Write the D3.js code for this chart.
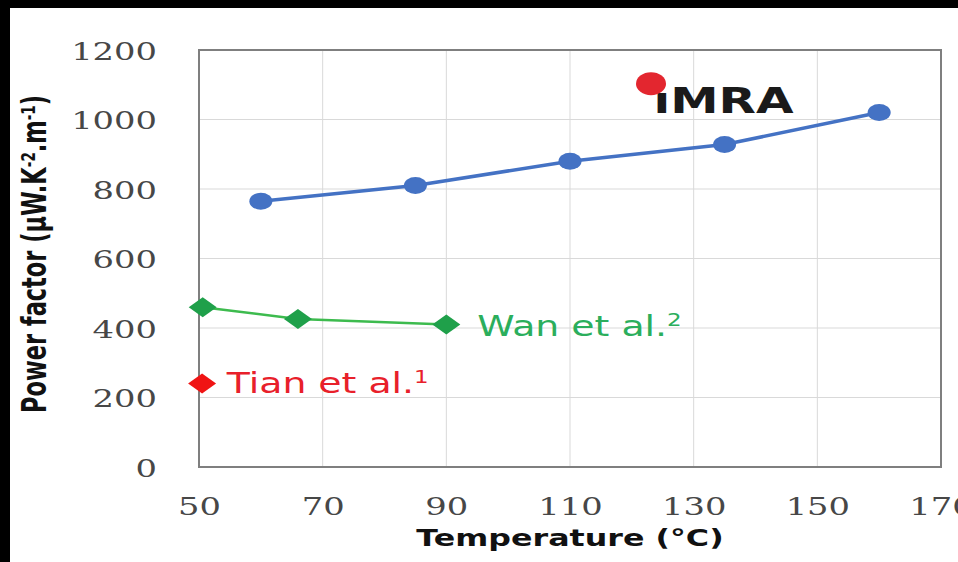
<!DOCTYPE html>
<html>
<head>
<meta charset="utf-8">
<script src="https://d3js.org/d3.v7.min.js"></script>
<style>
  body { margin: 0; background: #000; }
  svg { display: block; }
</style>
</head>
<body>
<div id="chart"></div>
<script>
// data
var imraTemp = [60, 85, 110, 135, 160];
var imraPF = [765, 810, 880, 928, 1020];
var wanTemp = [50.6, 66, 90];
var wanPF = [460, 426, 410];
var tianTemp = [50.5];
var tianPF = [240];
var xTicks = [50, 70, 90, 110, 130, 150, 170];
var yTicks = [0, 200, 400, 600, 800, 1000, 1200];

var W = 958, H = 562;
var SX = 1.35; // the picture is stretched sideways, text too

var svg = d3.select("#chart").append("svg")
  .attr("width", W).attr("height", H);

// white page with the black frame at top / left
svg.append("rect").attr("width", W).attr("height", H).attr("fill", "#000");
svg.append("rect").attr("x", 10).attr("y", 8).attr("width", W - 10).attr("height", H - 8).attr("fill", "#fff");

var x = d3.scaleLinear().domain([50, 170]).range([199, 941]);
var y = d3.scaleLinear().domain([0, 1200]).range([467, 50]);

// gridlines
svg.append("g").selectAll("line.v")
  .data(xTicks.slice(1, -1)).enter().append("line")
    .attr("x1", function(d) { return x(d); }).attr("x2", function(d) { return x(d); })
    .attr("y1", y(0)).attr("y2", y(1200))
    .attr("stroke", "#d9d9d9").attr("stroke-width", 1);
svg.append("g").selectAll("line.h")
  .data(yTicks.slice(1, -1)).enter().append("line")
    .attr("x1", x(50)).attr("x2", x(170))
    .attr("y1", function(d) { return y(d); }).attr("y2", function(d) { return y(d); })
    .attr("stroke", "#d9d9d9").attr("stroke-width", 1);

// plot frame
svg.append("rect")
  .attr("x", x(50)).attr("y", y(1200))
  .attr("width", x(170) - x(50)).attr("height", y(0) - y(1200))
  .attr("fill", "none").attr("stroke", "#7f7f7f").attr("stroke-width", 2);

// axes (labels only)
var xAxis = svg.append("g")
  .attr("transform", "translate(0," + y(0) + ")")
  .call(d3.axisBottom(x).tickValues(xTicks).tickSize(0).tickFormat(d3.format("d")));
xAxis.select(".domain").remove();
xAxis.selectAll("text")
  .attr("y", 48).attr("dy", 0)
  .attr("transform", "scale(" + SX + ",1)")
  .style("font-family", "'DejaVu Serif', serif")
  .style("font-size", "25px")
  .attr("fill", "#474747");

var yAxis = svg.append("g")
  .attr("transform", "translate(" + x(50) + ",0)")
  .call(d3.axisLeft(y).tickValues(yTicks).tickSize(0).tickFormat(d3.format("d")));
yAxis.select(".domain").remove();
yAxis.selectAll("text")
  .attr("x", -42 / SX).attr("dy", "0.36em")
  .attr("transform", "scale(" + SX + ",1)")
  .style("font-family", "'DejaVu Serif', serif")
  .style("font-size", "25px")
  .attr("fill", "#474747");

// axis titles
svg.append("text")
  .attr("transform", "translate(" + (x(50) + x(170)) / 2 + ",546) scale(" + SX + ",1)")
  .attr("text-anchor", "middle")
  .style("font-family", "'DejaVu Sans', sans-serif")
  .style("font-weight", "bold")
  .style("font-size", "23.5px")
  .attr("fill", "#111")
  .text("Temperature (°C)");

var yt = svg.append("text")
  .attr("transform", "translate(46,254) rotate(-90) scale(1," + SX + ")")
  .attr("text-anchor", "middle")
  .style("font-family", "'DejaVu Sans Condensed', 'DejaVu Sans', sans-serif")
  .style("font-stretch", "condensed")
  .style("font-weight", "bold")
  .style("font-size", "25px")
  .attr("fill", "#111");
yt.append("tspan").text("Power factor (µW.K");
yt.append("tspan").attr("baseline-shift", "super").style("font-size", "15px").text("-2");
yt.append("tspan").text(".m");
yt.append("tspan").attr("baseline-shift", "super").style("font-size", "15px").text("-1");
yt.append("tspan").text(")");

// iMRA series
var imra = imraTemp.map(function(t, i) { return [t, imraPF[i]]; });
var line = d3.line().x(function(d) { return x(d[0]); }).y(function(d) { return y(d[1]); });
svg.append("path").datum(imra)
  .attr("d", line).attr("fill", "none")
  .attr("stroke", "#4472c4").attr("stroke-width", 3.5);
svg.selectAll("ellipse.imra").data(imra).enter().append("ellipse")
  .attr("cx", function(d) { return x(d[0]); })
  .attr("cy", function(d) { return y(d[1]); })
  .attr("rx", 11.5).attr("ry", 8.5)
  .attr("fill", "#4472c4");

// Wan et al. series
var wan = wanTemp.map(function(t, i) { return [t, wanPF[i]]; });
svg.append("path").datum(wan)
  .attr("d", line).attr("fill", "none")
  .attr("stroke", "#3dbb4e").attr("stroke-width", 2.5);
function diamond(d) {
  var cx = x(d[0]), cy = y(d[1]);
  return "M" + (cx - 14) + "," + cy + "L" + cx + "," + (cy - 10) +
    "L" + (cx + 14) + "," + cy + "L" + cx + "," + (cy + 10) + "Z";
}
svg.selectAll("path.wan").data(wan).enter().append("path")
  .attr("d", diamond).attr("fill", "#1fa04a");

// Tian et al. point
var tian = tianTemp.map(function(t, i) { return [t, tianPF[i]]; });
svg.selectAll("path.tian").data(tian).enter().append("path")
  .attr("d", diamond).attr("fill", "#f01414");

// labels
function label(tx, ty, color, name, sup) {
  var t = svg.append("text")
    .attr("transform", "translate(" + x(tx) + "," + y(ty) + ") scale(" + SX + ",1)")
    .style("font-family", "'DejaVu Sans', sans-serif")
    .style("font-size", "28px")
    .attr("fill", color);
  t.append("tspan").text(name);
  t.append("tspan").attr("baseline-shift", "super").style("font-size", "17px").text(sup);
}
label(95, 378, "#2bae5c", "Wan et al.", "2");
label(54.5, 212, "#e8202a", "Tian et al.", "1");

// iMRA logo-like label
svg.append("text")
  .attr("transform", "translate(" + x(123.5) + "," + y(1018) + ") scale(" + SX + ",1)")
  .style("font-family", "'DejaVu Sans', sans-serif")
  .style("font-weight", "bold")
  .style("font-size", "36px")
  .attr("fill", "#1a1a1a")
  .text("ıMRA");
svg.append("ellipse")
  .attr("cx", x(123.1)).attr("cy", y(1103))
  .attr("rx", 15).attr("ry", 11.5)
  .attr("fill", "#e3262f");
</script>
</body>
</html>
